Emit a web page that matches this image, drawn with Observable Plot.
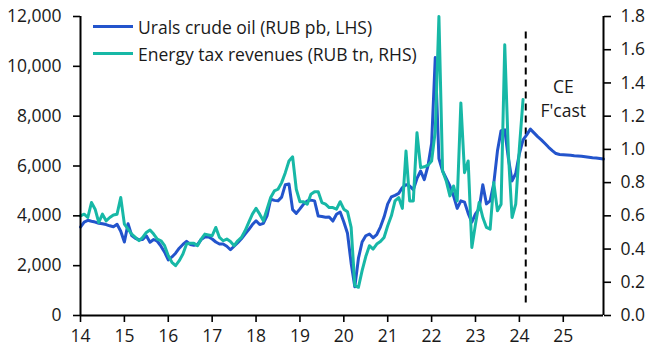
<!DOCTYPE html>
<html><head><meta charset="utf-8">
<script src="https://cdn.jsdelivr.net/npm/d3@7"></script>
<script src="https://cdn.jsdelivr.net/npm/@observablehq/plot@0.6"></script>
<style>
body{margin:0;background:#fff;}
#wrap{position:relative;width:650px;height:355px;font-family:"Open Sans",sans-serif;color:#1a1a1a;}
.legend{position:absolute;left:93px;top:13px;font-size:17.5px;}
.item{display:flex;align-items:center;height:27px;white-space:nowrap;}
.swatch{width:40px;height:3px;margin-right:5px;}
</style></head><body><div id="wrap"></div>
<script>
// Monthly data, Jan 2014 onwards
const startYear = 2014;
// Urals crude oil, RUB per barrel (LHS), Jan 2014 - Feb 2024
const uralsActual = [
  3550, 3750, 3820, 3780, 3750, 3700, 3680, 3650, 3600, 3560, 3660, 3380,
  2950, 3680, 3210, 3100, 3040, 3050, 3200, 2940, 3050, 2980, 2780, 2540,
  2230, 2350, 2500, 2700, 2850, 2980, 2850, 2820, 2850, 3050, 3150, 3150,
  3070, 2950, 2870, 2870, 2780, 2640, 2780, 2920, 3080, 3270, 3450, 3650,
  3800, 3650, 3700, 4000, 4670, 4620, 4600, 4750, 5250, 5280, 4250, 4100,
  4280, 4470, 4600, 4630, 4600, 3990, 3970, 3940, 3950, 3790, 4060, 4150,
  3750, 3300, 2100, 1150, 2300, 2950, 3200, 3270, 3120, 3250, 3550, 3950,
  4480, 4760, 4820, 4900, 5130, 5250, 5200, 5050, 5500, 5800, 5450, 6000,
  6900, 10350, 6300, 5800, 5500, 5200, 4800, 4300, 4600, 4550, 4100, 3750,
  4080, 4280, 5250, 4480, 4600, 5300, 6600, 7420, 7450, 6300, 5400, 5700,
  6500, 7050
];
// CE forecast, Mar 2024 - Dec 2025
const uralsForecast = [
  7250, 7480, 7330, 7180, 7050, 6900, 6750, 6620, 6500, 6460,
  6450, 6440, 6430, 6410, 6400, 6390, 6370, 6350, 6330, 6320, 6300, 6280
];
// Energy tax revenues, RUB tn (RHS), Jan 2014 - Feb 2024
const taxRevenue = [
  0.60, 0.61, 0.59, 0.68, 0.64, 0.56, 0.61, 0.57, 0.59, 0.605, 0.61, 0.71,
  0.55, 0.52, 0.49, 0.47, 0.45, 0.47, 0.50, 0.515, 0.49, 0.46, 0.45, 0.42,
  0.36, 0.32, 0.30, 0.33, 0.37, 0.43, 0.435, 0.435, 0.42, 0.46, 0.49, 0.485,
  0.48, 0.53, 0.47, 0.45, 0.46, 0.445, 0.42, 0.45, 0.47, 0.51, 0.56, 0.61,
  0.645, 0.61, 0.57, 0.64, 0.71, 0.75, 0.76, 0.80, 0.86, 0.93, 0.955, 0.76,
  0.685, 0.685, 0.67, 0.73, 0.745, 0.745, 0.68, 0.67, 0.65, 0.65, 0.64, 0.685,
  0.64, 0.625, 0.53, 0.18, 0.17, 0.27, 0.355, 0.42, 0.40, 0.43, 0.445, 0.47,
  0.54, 0.60, 0.69, 0.71, 0.645, 0.99, 0.69, 0.69, 1.10, 0.89, 0.895, 0.905,
  0.93, 1.11, 1.80, 0.87, 0.81, 0.72, 0.78, 0.69, 1.28, 0.86, 0.93, 0.41,
  0.55, 0.68, 0.59, 0.53, 0.52, 0.80, 0.63, 0.67, 1.63, 0.97, 0.59, 0.67,
  1.01, 1.30
];
const xTicks = [2014, 2015, 2016, 2017, 2018, 2019, 2020, 2021, 2022, 2023, 2024, 2025];
const leftTicks = [0, 2000, 4000, 6000, 8000, 10000, 12000];
const rightTicks = [0, 0.2, 0.4, 0.6, 0.8, 1.0, 1.2, 1.4, 1.6, 1.8];
const leftMax = 12000, rightMax = 1.8;
const forecastStart = 2024.145;
const forecastSpan = [500, 11400];
const annotation = [{x: 2025.0, y: 8750, text: "CE\nF'cast"}];
const seriesNames = ["Urals crude oil (RUB pb, LHS)", "Energy tax revenues (RUB tn, RHS)"];
const colors = ["#2354cc", "#17b8a6"];

const toLeft = v => v * leftMax / rightMax;
const monthDate = i => startYear + i / 12;
const urals = uralsActual.concat(uralsForecast).map((v, i) => ({x: monthDate(i), y: v}));
const tax = taxRevenue.map((v, i) => ({x: monthDate(i), y: toLeft(v)}));
const xEnd = monthDate(uralsActual.length + uralsForecast.length - 1);

const chart = Plot.plot({
  width: 650, height: 355,
  marginLeft: 80, marginRight: 47, marginTop: 16, marginBottom: 40,
  style: {fontFamily: "Open Sans", fontSize: "17.5px", color: "#1a1a1a", background: "transparent", overflow: "visible"},
  x: {domain: [startYear, xEnd]},
  y: {domain: [0, leftMax]},
  marks: [
    Plot.ruleX([forecastStart], {y1: forecastSpan[0], y2: forecastSpan[1], stroke: "#000", strokeWidth: 2, strokeDasharray: "7,5"}),
    Plot.line(urals, {x: "x", y: "y", stroke: colors[0], strokeWidth: 3}),
    Plot.line(tax, {x: "x", y: "y", stroke: colors[1], strokeWidth: 3}),
    Plot.axisX({ticks: xTicks, tickFormat: d => String(d).slice(2), tickSize: 7, tickPadding: 7, label: null, stroke: "#000", strokeWidth: 1.6}),
    Plot.axisY({ticks: leftTicks, tickFormat: d3.format(","), tickSize: 7, tickPadding: 12, label: null, stroke: "#000", strokeWidth: 1.6}),
    Plot.axisY({anchor: "right", ticks: rightTicks.map(toLeft), tickFormat: d => (d * rightMax / leftMax).toFixed(1), tickSize: 7, tickPadding: 10, label: null, stroke: "#000", strokeWidth: 1.6}),
    Plot.ruleY([0], {stroke: "#000", strokeWidth: 2}),
    Plot.ruleX([startYear, xEnd], {stroke: "#000", strokeWidth: 2}),
    Plot.text(annotation, {x: "x", y: "y", text: "text", lineHeight: 1.37, fill: "#1a1a1a"})
  ]
});
const wrap = document.getElementById("wrap");
wrap.appendChild(chart);
const legend = document.createElement("div");
legend.className = "legend";
seriesNames.forEach((name, i) => {
  const item = document.createElement("div");
  item.className = "item";
  const sw = document.createElement("span");
  sw.className = "swatch";
  sw.style.background = colors[i];
  const label = document.createElement("span");
  label.textContent = name;
  item.appendChild(sw);
  item.appendChild(label);
  legend.appendChild(item);
});
wrap.appendChild(legend);
</script></body></html>
